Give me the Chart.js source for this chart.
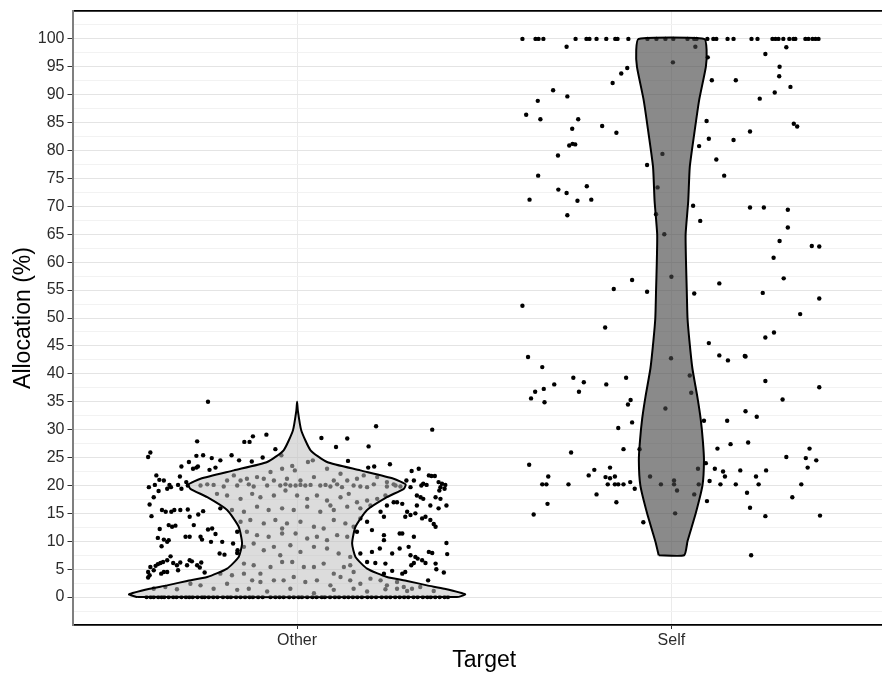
<!DOCTYPE html>
<html lang="en">
<head>
  <meta charset="UTF-8">
  <title>Allocation (%) by Target</title>
  <script src="https://cdn.jsdelivr.net/npm/chart.js"></script>
  <style>
    html, body {
      margin: 0;
      padding: 0;
      background: #ffffff;
      overflow: hidden;
    }

    /* panel runs past the right edge of the window, as in the source image */
    .chart-box {
      width: 900px;
      height: 674px;
    }
  </style>
</head>
<body>

  <div class="chart-box">
    <canvas id="violinChart"></canvas>
  </div>

  <script>
    const categories = ['Other', 'Self'];
    const yTickLabels = [0, 5, 10, 15, 20, 25, 30, 35, 40, 45, 50, 55, 60, 65, 70, 75, 80, 85, 90, 95, 100];

    // violin outlines: allocation level and half width (in category units)
    const otherViolinY = [0, 0.5, 1.5, 2.1, 2.9, 3.6, 5.1, 7.2, 9.6, 12.6, 15.6, 17.9, 19.4, 20.2, 21.2, 22.7, 24.2, 26.3, 29.9, 33.4, 35];
    const otherViolinW = [0.427, 0.449, 0.393, 0.347, 0.294, 0.240, 0.187, 0.156, 0.147, 0.156, 0.187, 0.240, 0.285, 0.290, 0.258, 0.169, 0.080, 0.036, 0.011, 0.002, 0];
    const selfViolinY = [7.5, 10, 15, 20, 24.5, 28, 32, 36, 41, 46, 50, 55, 60, 65, 71, 77, 83, 89, 95, 98, 100];
    const selfViolinW = [0.034, 0.043, 0.065, 0.083, 0.087, 0.084, 0.078, 0.069, 0.056, 0.048, 0.043, 0.041, 0.039, 0.038, 0.045, 0.049, 0.061, 0.074, 0.092, 0.094, 0.088];

    // jittered observations: [horizontal jitter, allocation %]
    const otherPoints = [
      [-0.238,35.0],[-0.267,27.9],[-0.141,27.8],[-0.127,27.8],[-0.118,28.8],[-0.082,29.1],[0.211,30.6],[0.361,30.0],
      [0.065,28.5],[0.134,28.4],[0.104,26.9],[0.191,27.0],[-0.392,25.9],[-0.398,25.1],[-0.269,25.3],[-0.251,25.4],
      [-0.228,24.9],[-0.205,24.5],[-0.175,25.4],[-0.155,24.5],[-0.121,24.3],[-0.092,25.0],[-0.058,26.5],[0.136,24.4],
      [0.190,23.2],[0.206,23.4],[0.248,23.8],[-0.289,24.2],[-0.309,23.4],[-0.278,23.0],[-0.269,23.2],[-0.265,23.4],
      [-0.234,22.8],[-0.218,23.2],[-0.376,21.8],[-0.313,21.6],[-0.368,21.0],[-0.356,20.9],[-0.396,19.7],[-0.380,20.1],
      [-0.370,19.0],[-0.341,20.1],[-0.337,19.7],[-0.347,19.4],[-0.318,20.1],[-0.309,19.4],[-0.296,20.6],[-0.292,20.0],
      [-0.394,16.6],[-0.383,17.9],[-0.361,15.6],[-0.351,15.3],[-0.336,15.3],[-0.328,15.6],[-0.389,14.5],[-0.312,15.6],
      [-0.292,15.7],[-0.287,14.4],[-0.264,14.8],[-0.251,15.4],[-0.276,12.9],[-0.343,12.9],[-0.334,12.6],[-0.325,12.8],
      [-0.367,12.2],[-0.372,10.6],[-0.356,10.3],[-0.347,9.9],[-0.343,10.2],[-0.362,9.1],[-0.298,10.8],[-0.287,10.8],
      [-0.258,10.8],[-0.254,10.3],[-0.238,12.1],[-0.227,12.3],[-0.230,9.9],[-0.218,11.3],[-0.200,9.9],[-0.171,9.6],
      [-0.207,7.8],[-0.194,7.6],[-0.160,7.9],[-0.159,8.4],[-0.338,7.3],[-0.347,6.6],[-0.358,6.3],[-0.365,6.1],
      [-0.372,5.9],[-0.378,5.6],[-0.392,5.4],[-0.383,4.8],[-0.398,4.5],[-0.394,3.9],[-0.398,3.5],[-0.363,4.2],
      [-0.356,4.5],[-0.347,4.5],[-0.331,6.1],[-0.321,5.7],[-0.312,6.2],[-0.287,6.6],[-0.281,6.4],[-0.294,5.7],
      [-0.267,5.7],[-0.256,6.2],[-0.260,5.3],[-0.247,4.4],[-0.318,4.8],
      [0.292,20.9],[0.306,22.6],[0.325,23.0],[0.303,19.7],[0.312,20.9],[0.352,21.8],[0.359,21.7],[0.368,21.7],
      [0.337,20.3],[0.346,20.1],[0.332,20.0],[0.378,20.6],[0.387,20.3],[0.396,20.1],[0.383,19.7],[0.380,19.1],
      [0.394,19.4],[0.320,18.2],[0.330,17.9],[0.337,17.6],[0.370,17.9],[0.383,17.6],[0.267,17.0],[0.281,16.7],
      [0.320,16.4],[0.356,16.4],[0.399,16.4],[0.378,15.9],[0.294,15.3],[0.303,14.7],[0.289,14.4],[0.316,15.0],
      [0.334,14.1],[0.343,14.4],[0.356,13.8],[0.365,13.1],[0.370,12.6],[0.232,14.4],[0.274,11.4],[0.281,11.4],
      [0.200,12.0],[0.232,11.1],[0.232,10.2],[0.312,10.8],[0.221,8.7],[0.200,8.1],[0.274,8.7],[0.298,9.0],
      [0.399,9.7],[0.254,7.8],[0.303,7.5],[0.316,7.2],[0.322,6.9],[0.334,6.6],[0.352,8.1],[0.361,7.9],
      [0.401,7.7],[0.343,6.1],[0.312,6.1],[0.305,5.7],[0.236,6.0],[0.187,6.3],[0.209,6.1],[0.370,6.0],
      [0.232,4.2],[0.254,4.7],[0.281,4.2],[0.289,4.5],[0.372,5.0],[0.392,4.4],[0.350,3.0],
      [-0.042,25.4],[-0.013,23.5],[0.029,24.2],[0.042,24.5],[-0.006,22.7],[-0.040,23.0],[-0.071,22.4],[-0.107,21.5],
      [-0.134,21.2],[-0.089,21.2],[-0.062,20.9],[-0.027,21.2],[0.009,20.9],[0.045,21.5],[0.080,23.0],[0.116,22.1],
      [0.098,20.9],[0.134,20.9],[0.160,21.2],[0.178,21.8],[0.214,21.5],[0.240,20.6],[0.263,20.0],[0.276,19.8],
      [-0.151,20.9],[-0.187,20.9],[-0.169,21.8],[-0.258,20.0],[-0.240,20.2],[-0.223,20.1],[-0.196,19.8],[-0.160,20.0],
      [-0.129,20.2],[-0.116,19.8],[-0.080,20.0],[-0.045,20.0],[-0.031,20.2],[-0.018,20.0],[-0.004,20.0],[0.009,20.1],
      [0.022,20.0],[0.036,20.1],[0.062,20.0],[0.076,20.1],[0.089,19.8],[0.107,20.2],[0.120,19.7],[0.151,20.0],
      [0.169,19.8],[0.187,19.7],[0.205,20.2],[0.240,19.8],[0.258,20.2],
      [-0.214,18.5],[-0.187,18.2],[-0.151,17.6],[-0.120,18.5],[-0.098,17.9],[-0.062,18.2],[-0.031,19.1],[0.000,18.2],
      [0.027,17.6],[0.053,18.2],[0.080,17.3],[0.089,16.4],[0.116,17.9],[0.138,18.5],[0.160,17.0],[0.187,17.3],
      [0.214,17.6],[0.236,18.2],[0.258,17.0],[0.240,16.4],
      [-0.205,15.9],[-0.174,15.6],[-0.142,15.3],[-0.107,16.2],[-0.076,15.6],[-0.040,15.9],[-0.009,15.6],[0.027,16.2],
      [0.062,15.3],[0.098,15.6],[0.134,16.2],[0.169,15.9],[0.196,16.4],[0.223,15.3],
      [-0.151,13.5],[-0.125,13.8],[-0.089,13.2],[-0.058,13.8],[-0.027,13.2],[0.009,13.5],[0.045,12.6],[0.071,12.3],
      [0.098,13.8],[0.129,13.2],[0.151,12.6],[0.187,13.5],[0.169,14.1],
      [-0.160,11.7],[-0.134,11.7],[-0.107,11.1],[-0.076,10.8],[-0.040,12.3],[-0.040,11.4],[-0.004,11.4],[0.027,10.5],
      [0.053,10.8],[0.080,10.2],[0.107,11.1],[0.134,10.8],[0.160,11.7],
      [-0.142,9.0],[-0.116,9.6],[-0.089,8.4],[-0.062,9.0],[-0.045,7.5],[-0.018,9.3],[0.009,8.1],[0.045,9.0],
      [0.080,8.7],[0.111,7.8],[0.142,7.2],[0.142,5.7],[0.169,7.8],
      [-0.142,6.0],[-0.116,5.7],[-0.098,4.2],[-0.071,5.4],[-0.040,6.3],[-0.013,6.3],[0.018,5.4],[0.045,5.4],
      [0.071,6.0],[0.098,4.2],[0.125,5.4],[0.151,4.5],
      [-0.205,4.2],[-0.174,3.9],[-0.142,4.2],[-0.120,3.0],[-0.098,2.7],[-0.062,3.0],[-0.036,3.0],[-0.009,3.6],
      [0.022,2.7],[0.053,3.0],[0.089,2.1],[0.116,3.6],[0.142,3.0],[0.169,2.4],[0.196,3.3],[0.223,3.0],
      [0.240,2.1],[0.267,2.7],[0.285,1.8],[0.307,1.5],[0.329,1.8],
      [-0.383,1.5],[-0.352,1.8],[-0.321,1.4],[-0.285,2.4],[-0.258,2.1],[-0.223,1.5],[-0.187,2.4],[-0.160,1.3],
      [-0.129,1.5],[-0.080,1.0],[-0.018,1.5],[0.045,0.7],[0.098,1.3],[0.151,1.5],[0.187,1.0],[0.236,1.4],
      [0.267,1.5],[0.294,1.1],[0.365,1.1]
    ];
    // jitter of the many Other answers at exactly 0 %
    const otherZeroJitter = [
      -0.402,-0.391,-0.383,-0.371,-0.362,-0.355,-0.343,-0.331,-0.322,-0.309,-0.297,-0.288,-0.279,-0.266,-0.254,-0.247,
      -0.236,-0.224,-0.213,-0.198,-0.186,-0.177,-0.163,-0.151,-0.139,-0.127,-0.118,-0.104,-0.092,-0.071,-0.058,-0.047,
      -0.036,-0.021,-0.009,0.004,0.013,0.027,0.041,0.052,0.066,0.074,0.088,0.101,0.112,0.126,0.137,0.149,
      0.161,0.173,0.188,0.199,0.211,0.226,0.238,0.249,0.262,0.274,0.286,0.297,0.311,0.322,0.336,0.348,
      0.357,0.369,0.381,0.394,0.403
    ];

    const selfPoints = [
      [-0.280,98.6],[0.064,98.6],[0.097,96.7],[0.251,97.3],[0.307,98.5],[0.004,95.8],[-0.118,94.8],[-0.134,93.8],
      [0.289,95.0],[0.288,93.3],[-0.157,92.1],[0.108,92.6],[0.172,92.6],[-0.316,90.8],[-0.278,89.7],[0.276,90.4],
      [0.318,91.4],[0.236,89.3],[-0.357,88.9],[-0.388,86.4],[-0.350,85.6],[-0.249,85.6],[0.094,85.3],[0.327,84.8],
      [0.336,84.3],[-0.185,84.4],[-0.265,83.9],[-0.147,83.2],[0.210,83.4],[0.100,82.1],[0.166,81.9],[-0.264,81.2],
      [-0.257,81.1],[-0.273,80.9],[0.074,80.8],[-0.024,79.4],[-0.303,79.1],[0.120,78.4],[-0.065,77.4],[-0.356,75.5],
      [0.141,75.5],[-0.037,73.4],[-0.226,73.6],[-0.302,73.0],[-0.280,72.4],[-0.379,71.2],[-0.251,71.0],[-0.214,71.2],
      [0.058,70.1],[0.210,69.8],[0.247,69.8],[0.311,69.4],[-0.278,68.4],[-0.041,68.6],[0.077,67.4],[0.311,66.2],
      [-0.019,65.0],[0.289,63.8],[0.375,62.9],[0.395,62.8],[0.273,60.8],[0.000,57.4],[0.300,57.1],[-0.105,56.8],
      [0.128,56.2],[-0.154,55.2],[-0.065,54.7],[0.061,54.4],[0.244,54.5],[0.395,53.5],[-0.398,52.2],[0.344,50.7],
      [-0.177,48.3],[0.274,47.4],[0.251,46.5],[0.100,45.5],[0.128,43.3],[0.151,42.4],[0.198,43.1],[0.196,43.2],
      [-0.383,43.0],[-0.001,42.8],[-0.345,41.2],[-0.262,39.3],[-0.234,38.5],[-0.313,38.1],[-0.174,38.1],[-0.121,39.3],
      [0.049,39.7],[0.251,38.7],[0.395,37.6],[-0.364,36.8],[-0.341,37.3],[-0.247,36.8],[0.053,36.6],[-0.375,35.6],
      [-0.339,34.9],[-0.109,35.3],[-0.116,34.5],[0.297,35.4],[-0.016,33.8],[0.198,33.3],[0.228,32.3],[0.087,31.6],
      [0.149,31.6],[-0.105,31.3],[-0.142,30.3],[0.205,27.7],[0.158,27.4],[0.123,26.6],[0.369,26.6],[-0.128,26.5],
      [-0.085,26.5],[-0.268,25.9],[0.307,25.1],[0.359,24.9],[0.387,24.5],[-0.380,23.7],[0.092,24.0],[0.364,23.2],
      [0.071,23.0],[-0.164,23.2],[-0.206,22.8],[0.116,23.0],[0.138,22.5],[0.184,22.7],[0.253,22.7],[-0.329,21.6],
      [-0.221,21.8],[-0.176,21.5],[-0.164,21.3],[-0.151,21.6],[-0.057,21.6],[0.143,21.6],[0.226,21.6],[-0.345,20.2],
      [-0.334,20.2],[-0.275,20.2],[-0.170,20.2],[-0.151,20.2],[-0.142,20.2],[-0.128,20.2],[-0.110,20.6],[-0.028,20.2],
      [0.007,20.9],[0.007,20.2],[0.015,19.1],[0.073,20.2],[0.102,20.8],[0.131,20.2],[0.172,20.2],[0.233,20.2],
      [0.347,20.2],[-0.098,19.4],[0.061,18.4],[-0.200,18.4],[0.202,18.7],[0.323,17.9],[-0.147,17.0],[0.095,17.2],
      [-0.331,16.7],[0.210,16.0],[-0.368,14.8],[0.010,15.0],[0.251,14.5],[0.397,14.6],[-0.075,13.4],[0.213,7.5]
    ];
    // jitter of the Self answers at exactly 100 %
    const selfTopJitter = [
      -0.398,-0.363,-0.355,-0.342,-0.256,-0.227,-0.219,-0.200,-0.174,-0.150,-0.144,-0.115,-0.064,-0.040,-0.016,0.005,
      0.043,0.061,0.067,0.096,0.112,0.120,0.150,0.166,0.214,0.230,0.270,0.278,0.286,0.299,0.315,0.326,
      0.331,0.358,0.366,0.377,0.385,0.393
    ];

    function violinOutline(center, ys, ws) {
      const left = ys.map((y, i) => ({ x: center - ws[i], y: y }));
      const right = [];
      for (let i = ys.length - 1; i >= 0; i--) {
        if (ws[i] === 0) continue; // tip already on the left side
        right.push({ x: center + ws[i], y: ys[i] });
      }
      const pts = left.concat(right);
      pts.push(pts[0]);
      return pts;
    }

    const otherDots = otherPoints.map(p => ({ x: 1 + p[0], y: p[1] }))
      .concat(otherZeroJitter.map(dx => ({ x: 1 + dx, y: 0 })));
    const selfDots = selfPoints.map(p => ({ x: 2 + p[0], y: p[1] }))
      .concat(selfTopJitter.map(dx => ({ x: 2 + dx, y: 100 })));

    const violinStyle = {
      showLine: true,
      fill: 'shape',
      borderColor: '#000000',
      borderWidth: 2,
      pointRadius: 0,
      tension: 0.18,
      order: 1
    };
    const dotStyle = {
      showLine: false,
      pointRadius: 2.2,
      pointBorderWidth: 0,
      pointBackgroundColor: '#000000',
      order: 2
    };

    const tickFont = { family: 'Arial, "Liberation Sans", sans-serif', size: 16, lineHeight: 1 };
    const titleFont = { family: 'Arial, "Liberation Sans", sans-serif', size: 23 };

    new Chart(document.getElementById('violinChart'), {
      type: 'scatter',
      data: {
        datasets: [
          Object.assign({ label: 'Other violin', data: violinOutline(1, otherViolinY, otherViolinW), backgroundColor: 'rgba(192,192,192,0.55)' }, violinStyle),
          Object.assign({ label: 'Self violin', data: violinOutline(2, selfViolinY, selfViolinW), backgroundColor: 'rgba(70,70,70,0.63)' }, violinStyle),
          Object.assign({ label: 'Other', data: otherDots }, dotStyle),
          Object.assign({ label: 'Self', data: selfDots }, dotStyle)
        ]
      },
      options: {
        responsive: true,
        maintainAspectRatio: false,
        animation: false,
        layout: { padding: { top: 10, right: 4, left: 0, bottom: 0 } },
        plugins: {
          legend: { display: false },
          tooltip: { enabled: false }
        },
        scales: {
          x: {
            type: 'linear',
            min: 0.4,
            max: 2.6,
            afterBuildTicks: s => { s.ticks = categories.map((c, i) => ({ value: i + 1 })); },
            afterFit: s => { s.height = 49; },
            ticks: {
              autoSkip: false,
              maxRotation: 0,
              padding: 4,
              color: '#2b2b2b',
              font: tickFont,
              callback: v => categories[v - 1]
            },
            grid: {
              color: '#ebebeb',
              lineWidth: 1,
              tickColor: '#333333',
              tickLength: 4
            },
            border: { color: '#000000', width: 1.8 },
            title: {
              display: true,
              text: 'Target',
              color: '#000000',
              padding: { top: 0, bottom: 0 },
              font: titleFont
            }
          },
          y: {
            type: 'linear',
            min: -5,
            max: 105,
            afterBuildTicks: s => {
              const t = [];
              for (let v = -5; v <= 105; v += 2.5) t.push({ value: v });
              s.ticks = t;
            },
            afterFit: s => { s.width = 72.5; },
            ticks: {
              autoSkip: false,
              padding: 3,
              color: '#2b2b2b',
              font: tickFont,
              callback: v => (yTickLabels.includes(v) ? String(v) : '')
            },
            grid: {
              color: ctx => {
                const v = ctx.tick.value;
                if (v === 105) return '#000000';
                return yTickLabels.includes(v) ? '#e4e4e4' : '#f2f2f2';
              },
              lineWidth: ctx => (ctx.tick.value === 105 ? 1.8 : 1),
              tickColor: ctx => (yTickLabels.includes(ctx.tick.value) ? '#333333' : 'rgba(0,0,0,0)'),
              tickLength: 5
            },
            border: { color: '#7f7f7f', width: 2 },
            title: {
              display: true,
              text: 'Allocation (%)',
              color: '#000000',
              padding: { top: 10, bottom: 0 },
              font: titleFont
            }
          }
        }
      }
    });
  </script>

</body>
</html>
